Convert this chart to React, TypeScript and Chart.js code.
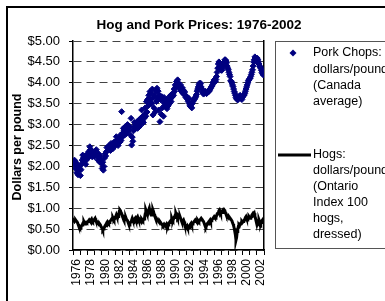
import { useEffect, useRef } from 'react';
import { Chart, registerables } from 'chart.js';

Chart.register(...registerables);

const startYear = 1976;
const endYear = 2002;

// Monthly pork chop retail price, dollars/pound (Canada average), Jan 1976 .. Dec 2002
const porkChops: number[] = [
  2.10, 2.05, 2.15, 2.12, 1.95, 2.08, 1.85, 2.00, 1.80, 1.90, 2.02, 1.95, // 1976
  1.78, 1.92, 2.05, 2.15, 2.27, 2.20, 2.10, 2.25, 2.18, 2.05, 2.15, 2.22, // 1977
  2.30, 2.20, 2.35, 2.25, 2.47, 2.40, 2.28, 2.38, 2.23, 2.30, 2.35, 2.25, // 1978
  2.23, 2.35, 2.28, 2.40, 2.31, 2.25, 2.15, 2.30, 2.20, 2.10, 2.25, 2.15, // 1979
  2.07, 1.95, 2.10, 1.91, 2.00, 2.20, 2.30, 2.25, 2.35, 2.45, 2.38, 2.47, // 1980
  2.40, 2.50, 2.45, 2.38, 2.55, 2.47, 2.52, 2.42, 2.51, 2.58, 2.48, 2.55, // 1981
  2.60, 2.71, 2.55, 2.65, 2.50, 2.60, 2.68, 2.58, 2.75, 2.62, 3.31, 2.70, // 1982
  2.80, 2.91, 2.85, 2.75, 2.95, 2.88, 2.78, 2.92, 3.00, 2.85, 2.95, 2.90, // 1983
  2.95, 2.75, 3.15, 2.51, 2.70, 2.60, 2.85, 2.95, 3.05, 2.90, 3.00, 2.92, // 1984
  3.07, 2.91, 3.00, 3.10, 2.95, 3.05, 3.15, 3.00, 3.35, 3.10, 3.20, 3.05, // 1985
  3.15, 3.25, 3.40, 3.20, 3.55, 3.30, 3.60, 3.45, 3.70, 3.55, 3.79, 3.60, // 1986
  3.75, 3.50, 3.85, 3.23, 3.65, 3.40, 3.70, 3.30, 3.80, 3.55, 3.87, 3.65, // 1987
  3.80, 3.35, 3.70, 3.07, 3.60, 3.25, 3.67, 3.40, 3.55, 3.20, 3.65, 3.45, // 1988
  3.50, 3.43, 3.60, 3.38, 3.55, 3.45, 3.65, 3.50, 3.60, 3.70, 3.55, 3.65, // 1989
  3.67, 3.75, 3.70, 3.85, 3.80, 3.95, 3.90, 4.03, 3.98, 4.07, 4.00, 3.95, // 1990
  3.91, 3.85, 3.95, 3.80, 3.79, 3.88, 3.75, 3.82, 3.72, 3.78, 3.70, 3.65, // 1991
  3.68, 3.63, 3.60, 3.55, 3.63, 3.50, 3.45, 3.43, 3.48, 3.40, 3.51, 3.55, // 1992
  3.59, 3.60, 3.62, 3.65, 3.68, 3.72, 3.80, 3.85, 3.90, 3.95, 3.99, 3.95, // 1993
  3.99, 3.90, 3.85, 3.78, 3.75, 3.73, 3.75, 3.78, 3.80, 3.76, 3.74, 3.76, // 1994
  3.78, 3.80, 3.79, 3.82, 3.85, 3.87, 3.90, 3.92, 3.95, 4.00, 4.03, 4.07, // 1995
  4.05, 4.03, 4.08, 4.15, 4.25, 4.35, 4.45, 4.50, 4.48, 4.40, 4.35, 4.30, // 1996
  4.30, 4.35, 4.40, 4.45, 4.50, 4.55, 4.55, 4.52, 4.48, 4.40, 4.35, 4.31, // 1997
  4.25, 4.20, 4.15, 4.05, 4.03, 4.00, 3.95, 3.91, 3.85, 3.79, 3.75, 3.70, // 1998
  3.65, 3.62, 3.60, 3.59, 3.62, 3.65, 3.68, 3.70, 3.65, 3.62, 3.60, 3.65, // 1999
  3.68, 3.70, 3.71, 3.75, 3.80, 3.85, 3.90, 3.95, 4.00, 4.05, 4.07, 4.10, // 2000
  4.11, 4.15, 4.20, 4.25, 4.31, 4.40, 4.50, 4.55, 4.62, 4.58, 4.55, 4.50, // 2001
  4.59, 4.55, 4.50, 4.45, 4.40, 4.38, 4.35, 4.30, 4.25, 4.22, 4.19, 4.25, // 2002
];

// Monthly hog price, dollars/pound (Ontario Index 100 hogs, dressed)
const hogs: number[] = [
  0.69, 0.70, 0.68, 0.70, 0.72, 0.70, 0.68, 0.66, 0.62, 0.58, 0.55, 0.53, // 1976
  0.52, 0.55, 0.58, 0.60, 0.63, 0.66, 0.68, 0.65, 0.62, 0.64, 0.66, 0.65, // 1977
  0.66, 0.68, 0.70, 0.72, 0.70, 0.69, 0.72, 0.74, 0.70, 0.68, 0.70, 0.72, // 1978
  0.74, 0.76, 0.72, 0.70, 0.68, 0.65, 0.63, 0.62, 0.60, 0.62, 0.60, 0.56, // 1979
  0.54, 0.52, 0.48, 0.50, 0.52, 0.55, 0.58, 0.60, 0.63, 0.66, 0.68, 0.66, // 1980
  0.64, 0.66, 0.68, 0.70, 0.72, 0.74, 0.76, 0.78, 0.75, 0.72, 0.74, 0.78, // 1981
  0.80, 0.84, 0.80, 0.76, 0.80, 0.86, 0.92, 0.96, 0.94, 0.90, 0.86, 0.84, // 1982
  0.80, 0.78, 0.74, 0.72, 0.76, 0.78, 0.74, 0.72, 0.70, 0.66, 0.62, 0.60, // 1983
  0.62, 0.66, 0.68, 0.72, 0.76, 0.72, 0.68, 0.70, 0.74, 0.76, 0.72, 0.74, // 1984
  0.78, 0.80, 0.76, 0.72, 0.74, 0.72, 0.70, 0.72, 0.74, 0.72, 0.70, 0.72, // 1985
  0.74, 0.78, 0.86, 0.96, 0.92, 0.88, 0.84, 0.90, 0.96, 1.00, 0.92, 0.88, // 1986
  0.84, 0.86, 0.90, 0.96, 0.92, 0.86, 0.82, 0.80, 0.76, 0.72, 0.70, 0.72, // 1987
  0.70, 0.68, 0.66, 0.68, 0.66, 0.64, 0.62, 0.60, 0.58, 0.60, 0.62, 0.60, // 1988
  0.58, 0.60, 0.62, 0.58, 0.56, 0.60, 0.64, 0.66, 0.68, 0.70, 0.72, 0.76, // 1989
  0.72, 0.70, 0.74, 0.78, 0.80, 0.84, 0.88, 0.84, 0.80, 0.76, 0.78, 0.80, // 1990
  0.78, 0.80, 0.76, 0.72, 0.68, 0.66, 0.70, 0.72, 0.68, 0.62, 0.58, 0.56, // 1991
  0.56, 0.58, 0.54, 0.52, 0.55, 0.58, 0.60, 0.62, 0.64, 0.60, 0.62, 0.64, // 1992
  0.66, 0.68, 0.70, 0.72, 0.70, 0.68, 0.70, 0.72, 0.70, 0.68, 0.70, 0.72, // 1993
  0.74, 0.76, 0.74, 0.72, 0.70, 0.68, 0.64, 0.60, 0.56, 0.55, 0.58, 0.62, // 1994
  0.64, 0.66, 0.68, 0.70, 0.72, 0.68, 0.70, 0.72, 0.74, 0.76, 0.78, 0.80, // 1995
  0.78, 0.76, 0.78, 0.82, 0.86, 0.88, 0.90, 0.94, 0.96, 0.92, 0.88, 0.90, // 1996
  0.92, 0.94, 0.90, 0.92, 0.96, 0.94, 0.90, 0.86, 0.84, 0.82, 0.80, 0.82, // 1997
  0.80, 0.78, 0.76, 0.74, 0.72, 0.70, 0.66, 0.62, 0.58, 0.52, 0.44, 0.36, // 1998
  0.24, 0.30, 0.44, 0.50, 0.56, 0.60, 0.58, 0.62, 0.64, 0.66, 0.68, 0.66, // 1999
  0.68, 0.70, 0.72, 0.74, 0.78, 0.80, 0.76, 0.72, 0.74, 0.78, 0.80, 0.78, // 2000
  0.76, 0.78, 0.80, 0.84, 0.86, 0.88, 0.86, 0.88, 0.82, 0.76, 0.72, 0.70, // 2001
  0.68, 0.66, 0.70, 0.72, 0.68, 0.64, 0.62, 0.66, 0.70, 0.72, 0.68, 0.66, // 2002
];

const yearTickValues: number[] = [
  1976, 1977, 1978, 1979, 1980, 1981, 1982, 1983, 1984, 1985, 1986, 1987, 1988, 1989,
  1990, 1991, 1992, 1993, 1994, 1995, 1996, 1997, 1998, 1999, 2000, 2001, 2002, 2003,
];
const yearLabels: string[] = [
  '1976', '1978', '1980', '1982', '1984', '1986', '1988', '1990', '1992', '1994', '1996', '1998', '2000', '2002',
];

const chartTitle = 'Hog and Pork Prices: 1976-2002';
const yAxisTitle = 'Dollars per pound';
const porkLegend = ['Pork Chops:', 'dollars/pound', '(Canada', 'average)'];
const hogLegend = ['Hogs:', 'dollars/pound', '(Ontario', 'Index 100', 'hogs,', 'dressed)'];

const FONT = '"Liberation Sans", Arial, Helvetica, sans-serif';
const NAVY = '#000080';

const toPoints = (vals: number[]) =>
  vals.map((v, i) => ({ x: startYear + (i + 0.5) / 12, y: v }));

const decorPlugin = {
  id: 'decor',
  afterDraw(chart: any) {
    const ctx = chart.ctx as CanvasRenderingContext2D;
    ctx.save();
    // outer frame
    ctx.strokeStyle = '#000';
    ctx.lineWidth = 2;
    ctx.strokeRect(7, 7, 420, 340);

    // title
    ctx.fillStyle = '#000';
    ctx.font = `bold 13.5px ${FONT}`;
    ctx.textAlign = 'center';
    ctx.textBaseline = 'middle';
    ctx.fillText(chartTitle, 199, 25);

    // y axis title
    ctx.save();
    ctx.translate(18, 147);
    ctx.rotate(-Math.PI / 2);
    ctx.font = `bold 12.5px ${FONT}`;
    ctx.fillText(yAxisTitle, 0, 0);
    ctx.restore();

    // legend box
    ctx.strokeStyle = '#555';
    ctx.lineWidth = 1;
    ctx.strokeRect(275.5, 41.5, 140, 207);

    ctx.font = `12.5px ${FONT}`;
    ctx.textAlign = 'left';
    ctx.textBaseline = 'middle';
    const lh = 16.3;
    // pork entry
    const dx = 293, dy = 53, r = 3.5;
    ctx.fillStyle = NAVY;
    ctx.beginPath();
    ctx.moveTo(dx - r, dy);
    ctx.lineTo(dx, dy - r);
    ctx.lineTo(dx + r, dy);
    ctx.lineTo(dx, dy + r);
    ctx.closePath();
    ctx.fill();
    ctx.fillStyle = '#000';
    porkLegend.forEach((t, i) => ctx.fillText(t, 313, 53 + i * lh));
    // hog entry
    ctx.strokeStyle = '#000';
    ctx.lineWidth = 3;
    ctx.beginPath();
    ctx.moveTo(278, 155);
    ctx.lineTo(311, 155);
    ctx.stroke();
    hogLegend.forEach((t, i) => ctx.fillText(t, 313, 155 + i * 16));
    ctx.restore();
  },
};

export default function App() {
  const ref = useRef<HTMLCanvasElement | null>(null);

  useEffect(() => {
    document.body.style.margin = '0';
    const canvas = ref.current;
    if (!canvas) return;
    const chart = new Chart(canvas, {
      type: 'line',
      data: {
        datasets: [
          {
            label: 'Pork Chops',
            data: toPoints(porkChops),
            showLine: false,
            pointStyle: 'rectRot',
            pointRadius: 3,
            pointBorderWidth: 1,
            pointBackgroundColor: NAVY,
            pointBorderColor: NAVY,
            borderColor: NAVY,
            backgroundColor: NAVY,
            order: 2,
          },
          {
            label: 'Hogs',
            data: toPoints(hogs),
            borderColor: '#000',
            borderWidth: 3,
            pointRadius: 0,
            tension: 0,
            fill: false,
            order: 1,
          },
        ],
      },
      options: {
        animation: false,
        responsive: false,
        devicePixelRatio: 1,
        layout: { padding: { left: 0, top: 41, right: 121, bottom: 0 } },
        plugins: {
          legend: { display: false },
          title: { display: false },
          tooltip: { enabled: false },
        },
        scales: {
          x: {
            type: 'linear',
            min: startYear,
            max: endYear + 1,
            afterBuildTicks: (scale: any) => {
              scale.ticks = yearTickValues.map((v) => ({ value: v }));
            },
            afterFit: (scale: any) => {
              scale.height = 51;
            },
            ticks: {
              autoSkip: false,
              minRotation: 90,
              maxRotation: 90,
              labelOffset: 4,
              padding: 4,
              color: '#000',
              font: { family: FONT, size: 12 },
              callback: (v: any) => {
                const s = String(v);
                return yearLabels.includes(s) ? s : '';
              },
            },
            grid: {
              drawOnChartArea: false,
              drawTicks: true,
              tickLength: 5,
              tickColor: '#000',
              tickWidth: 1,
            },
            border: { display: true, color: '#000', width: 1.5 },
          },
          y: {
            min: 0,
            max: 5,
            afterFit: (scale: any) => {
              scale.width = 73;
            },
            ticks: {
              stepSize: 0.5,
              padding: 9,
              color: '#000',
              font: { family: FONT, size: 13 },
              callback: (v: any) => '$' + Number(v).toFixed(2),
            },
            grid: {
              color: '#444',
              lineWidth: 1,
              drawTicks: true,
              tickLength: 4,
              tickColor: '#000',
              tickWidth: 1,
              tickBorderDash: [],
            },
            border: { display: true, color: '#000', width: 1.5, dash: [8, 5] },
          },
          y2: {
            position: 'right',
            min: 0,
            max: 5,
            afterFit: (scale: any) => {
              scale.width = 0;
            },
            ticks: { display: false },
            grid: { display: false, drawTicks: false },
            border: { display: true, color: '#000', width: 1.5 },
          },
        },
      },
      plugins: [decorPlugin],
    });
    return () => chart.destroy();
  }, []);

  return (
    <div style={{ width: 385, height: 301 }}>
      <canvas ref={ref} width={385} height={301} style={{ display: 'block', width: 385, height: 301 }} />
    </div>
  );
}
